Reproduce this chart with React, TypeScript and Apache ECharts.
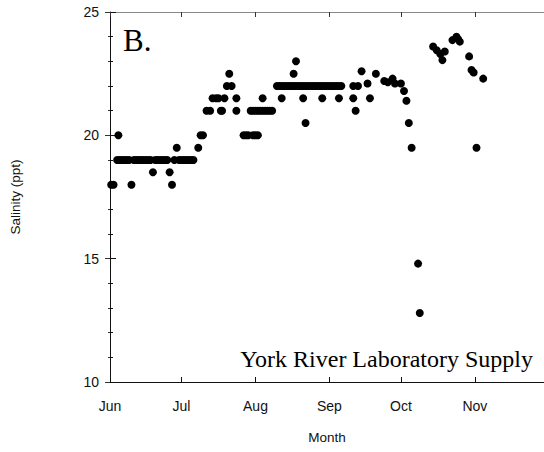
import React, { useEffect, useRef } from "react";
import * as echarts from "echarts";

// Day index counted from 1 June (0 = Jun 1)
const monthTickDays = [0, 30, 61, 92, 122, 153];
const monthLabels = ["Jun", "Jul", "Aug", "Sep", "Oct", "Nov"];
const yTicks = [10, 15, 20, 25];

// [day, salinity ppt]
const juneObs: [number, number][] = [
  [0.5, 18], [1.5, 18], [3.5, 20], [3, 19], [4, 19], [5, 19], [6, 19], [7, 19], [8, 19],
  [9, 18], [10, 19], [11, 19], [12, 19], [13, 19], [14, 19], [15, 19], [16, 19], [17, 19],
  [18, 18.5], [19, 19], [20, 19], [21, 19], [22, 19], [23, 19], [24, 19], [25, 18.5],
  [26, 18], [27, 19], [28, 19.5], [29, 19],
];
const julyObs: [number, number][] = [
  [30, 19], [31, 19], [32, 19], [33, 19], [34, 19], [35, 19], [37, 19.5], [38, 20], [39, 20],
  [40.5, 21], [42, 21], [46.5, 21], [47, 21],
  [43, 21.5], [44.5, 21.5], [45.5, 21.5], [48, 21.5],
  [49, 22], [50, 22.5], [51, 22], [53, 21.5], [53, 21],
  [56, 20], [57, 20], [58, 20], [60, 20], [59, 21], [60, 21],
];
const augustObs: [number, number][] = [
  [61, 20], [62, 20], [61, 21], [62, 21], [63, 21], [64, 21], [65, 21], [66, 21], [67, 21], [68, 21],
  [64, 21.5], [70, 22], [71, 22], [72, 22], [73, 22], [74, 22], [75, 22], [76, 22], [77, 22],
  [78, 22], [79, 22], [80, 22], [81, 22], [82, 22], [83, 22], [84, 22], [85, 22], [86, 22],
  [87, 22], [88, 22], [89, 22], [90, 22], [91, 22],
  [77, 22.5], [78, 23], [72, 21.5], [81, 21.5], [89, 21.5], [82, 20.5],
];
const septemberObs: [number, number][] = [
  [92, 22], [93, 22], [94, 22], [95, 22], [96, 22], [97, 22], [96, 21.5],
  [102, 22], [104, 22], [102, 21.5], [103, 21], [105.5, 22.6], [108, 22.1], [109, 21.5],
  [111.5, 22.5], [115, 22.2], [116.5, 22.15], [118.5, 22.3], [119.5, 22.1],
];
const octoberObs: [number, number][] = [
  [122, 22.1], [123.3, 21.8], [124.3, 21.4], [125.3, 20.5], [126.5, 19.5], [129.2, 14.8],
  [129.9, 12.8], [135.5, 23.6], [137, 23.45], [138.5, 23.3], [139.4, 23.05], [140.4, 23.4],
  [143.6, 23.86], [145.3, 24.0], [146, 23.9], [146.7, 23.8], [150.6, 23.2], [151.6, 22.65],
  [152.5, 22.55],
];
const novemberObs: [number, number][] = [
  [153.7, 19.5], [156.5, 22.3],
];

const sans = "'Liberation Sans', Arial, sans-serif";
const serif = "'Liberation Serif', 'Times New Roman', serif";

export default function App() {
  const ref = useRef<HTMLDivElement>(null);
  useEffect(() => {
    if (!ref.current) return;
    const chart = echarts.init(ref.current, undefined, { renderer: "svg" });
    const data = [...juneObs, ...julyObs, ...augustObs, ...septemberObs, ...octoberObs, ...novemberObs];
    chart.setOption({
      animation: false,
      backgroundColor: "#fff",
      grid: { left: 110, top: 12, width: 434, height: 370, containLabel: false },
      xAxis: [
        {
          type: "value",
          position: "bottom",
          min: 0,
          max: 182,
          name: "Month",
          nameLocation: "middle",
          nameGap: 48,
          nameTextStyle: { fontFamily: sans, fontSize: 13.5, color: "#111" },
          axisLine: { show: true, lineStyle: { color: "#111", width: 1 } },
          axisTick: { show: true, inside: true, length: 5, customValues: monthTickDays, lineStyle: { color: "#111" } },
          axisLabel: {
            show: true,
            customValues: monthTickDays,
            margin: 17,
            fontFamily: sans,
            fontSize: 14,
            color: "#111",
            formatter: (v: number) => monthLabels[monthTickDays.indexOf(v)] ?? "",
          },
          splitLine: { show: false },
        },
        {
          type: "value",
          position: "top",
          min: 0,
          max: 182,
          axisLine: { show: true, lineStyle: { color: "#888", width: 1 } },
          axisTick: { show: true, inside: true, length: 5, customValues: monthTickDays, lineStyle: { color: "#333" } },
          axisLabel: { show: false },
          splitLine: { show: false },
        },
      ],
      yAxis: [
        {
          type: "value",
          position: "left",
          min: 10,
          max: 25,
          interval: 5,
          name: "Salinity (ppt)",
          nameLocation: "middle",
          nameGap: 88,
          nameTextStyle: { fontFamily: sans, fontSize: 13.5, color: "#111" },
          axisLine: { show: true, lineStyle: { color: "#111", width: 1 } },
          axisTick: { show: true, inside: true, length: 6, lineStyle: { color: "#111" } },
          minorTick: { show: true, splitNumber: 5, length: 3, lineStyle: { color: "#111" } },
          axisLabel: {
            show: true,
            margin: 11,
            fontFamily: sans,
            fontSize: 14,
            color: "#111",
            formatter: (v: number) => (yTicks.includes(v) ? String(v) : ""),
          },
          splitLine: { show: false },
        },
        {
          type: "value",
          position: "right",
          min: 10,
          max: 25,
          interval: 5,
          axisLine: { show: false },
          axisTick: { show: true, inside: true, length: 5, lineStyle: { color: "#333" } },
          minorTick: { show: true, splitNumber: 5, length: 2, lineStyle: { color: "#333" } },
          axisLabel: { show: false },
          splitLine: { show: false },
        },
      ],
      series: [
        {
          type: "scatter",
          xAxisIndex: 0,
          yAxisIndex: 0,
          symbol: "circle",
          symbolSize: 8,
          itemStyle: { color: "#000", opacity: 1 },
          data,
        },
      ],
      graphic: [
        {
          type: "text",
          left: 123,
          top: 25,
          style: { text: "B.", font: `31px ${serif}`, fill: "#000" },
        },
        {
          type: "text",
          right: 11,
          top: 347,
          style: { text: "York River Laboratory Supply", font: `24px ${serif}`, fill: "#000" },
        },
      ],
    });
    return () => chart.dispose();
  }, []);
  return <div ref={ref} style={{ width: 544, height: 452, position: "absolute", left: 0, top: 0 }} />;
}
